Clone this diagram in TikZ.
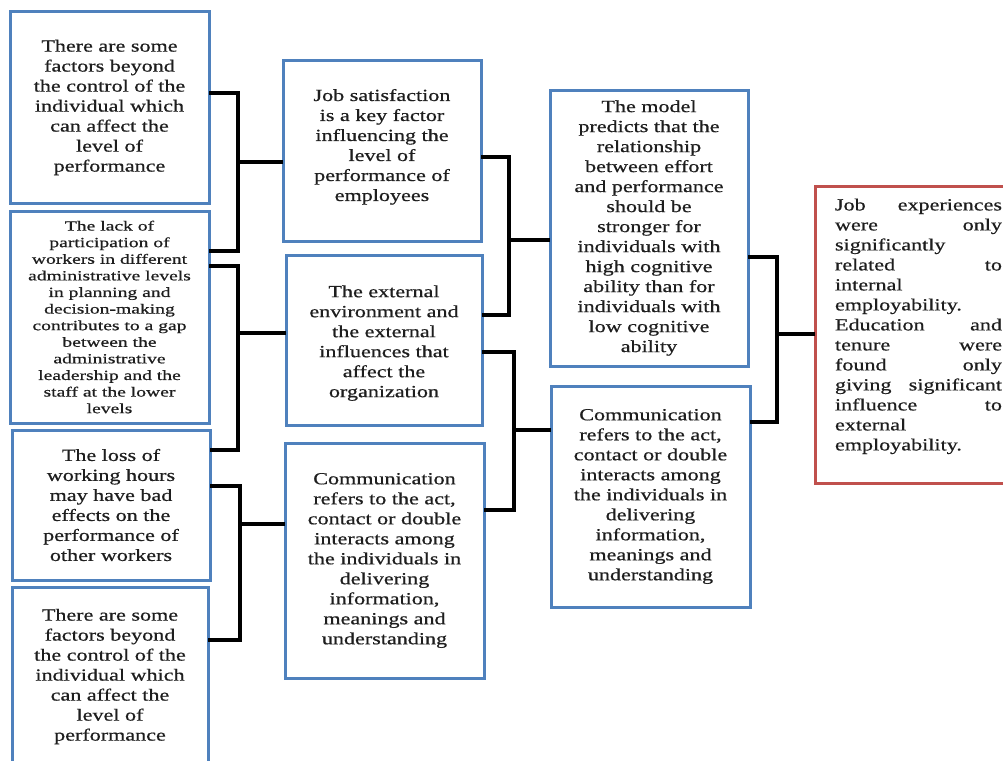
\documentclass[tikz,border=0pt]{standalone}
\usepackage{fontspec}
\newfontfamily\boxfont[FakeStretch=1.3,FakeBold=0.6]{Liberation Serif}
\newfontfamily\denseboxfont[FakeStretch=1.4,FakeBold=0.6]{Liberation Serif}
\definecolor{boxblue}{HTML}{4F81BD}
\definecolor{boxred}{HTML}{C0504D}
\definecolor{txtgray}{HTML}{1E1E1E}
\tikzset{
  box/.style={draw=boxblue, line width=3pt, fill=white, align=center,
    inner sep=0pt, outer sep=0pt, text=txtgray,
    font={\boxfont\fontsize{17}{20}\selectfont}},
  densebox/.style={box, font={\denseboxfont\fontsize{14}{16.6}\selectfont}},
  redbox/.style={draw=boxred, line width=3pt, fill=white, align=left,
    inner xsep=20pt, inner ysep=0pt, outer sep=0pt, text=txtgray,
    text width=167pt, font={\boxfont\fontsize{17}{20}\selectfont}},
  conn/.style={draw=black, line width=3.3pt, line join=miter}
}
\begin{document}
\begin{tikzpicture}[x=1pt, y=-1pt]
\useasboundingbox (0,0) rectangle (1003,760);
\clip (0,0) rectangle (1003,760);
\fill[white] (0,0) rectangle (1003,760);

% left column
\node[box, minimum width=199pt, minimum height=191pt] (L1) at (109.5,107.5)
  {There are some\\factors beyond\\the control of the\\individual which\\can affect the\\level of\\performance};
\node[densebox, minimum width=199pt, minimum height=212pt] (L2) at (109.5,317)
  {The lack of\\participation of\\workers in different\\administrative levels\\in planning and\\decision-making\\contributes to a gap\\between the\\administrative\\leadership and the\\staff at the lower\\levels};
\node[box, minimum width=198pt, minimum height=150pt] (L3) at (111,505)
  {The loss of\\working hours\\may have bad\\effects on the\\performance of\\other workers};
\node[box, minimum width=196pt, minimum height=179pt] (L4) at (110,676.5)
  {There are some\\factors beyond\\the control of the\\individual which\\can affect the\\level of\\performance};

% middle column
\node[box, minimum width=198pt, minimum height=180pt] (M1) at (382,151)
  {Job satisfaction\\is a key factor\\influencing the\\level of\\performance of\\employees\\[-8pt]\mbox{}};
\node[box, minimum width=196pt, minimum height=170pt] (M2) at (384,340)
  {\mbox{}\\[-2pt]The external\\environment and\\the external\\influences that\\affect the\\organization};
\node[box, minimum width=199pt, minimum height=235pt] (M3) at (384.5,560.5)
  {Communication\\refers to the act,\\contact or double\\interacts among\\the individuals in\\delivering\\information,\\meanings and\\understanding};

% third column
\node[box, minimum width=198pt, minimum height=276pt] (M4) at (649,228)
  {The model\\predicts that the\\relationship\\between effort\\and performance\\should be\\stronger for\\individuals with\\high cognitive\\ability than for\\individuals with\\low cognitive\\ability};
\node[box, minimum width=199pt, minimum height=221pt] (M5) at (650.5,496.5)
  {Communication\\refers to the act,\\contact or double\\interacts among\\the individuals in\\delivering\\information,\\meanings and\\understanding};

% right box
\node[redbox, minimum height=297pt] (R) at (918.5,334.5)
  {Job\hfill experiences\\were\hfill only\\significantly\\related\hfill to\\internal\\employability.\\Education\hfill and\\tenure\hfill were\\found\hfill only\\giving\hfill significant\\influence\hfill to\\external\\employability.\\\mbox{}};

% junctions
\coordinate (j1) at (238,162);
\coordinate (j2) at (238,333);
\coordinate (j3) at (240,524);
\coordinate (j4) at (509,240);
\coordinate (j5) at (514,430);
\coordinate (j6) at (777,334);

% connectors
\draw[conn] ([yshift=14.5pt]L1.east) -| (j1) |- ([yshift=66pt]L2.east);
\draw[conn] (j1) -- (j1 -| M1.west);
\draw[conn] ([yshift=51pt]L2.east) -| (j2) |- ([yshift=55pt]L3.east);
\draw[conn] (j2) -- (j2 -| M2.west);
\draw[conn] ([yshift=19pt]L3.east) -| (j3) |- ([yshift=36.5pt]L4.east);
\draw[conn] (j3) -- (j3 -| M3.west);
\draw[conn] ([yshift=-6pt]M1.east) -| (j4) |- ([yshift=25pt]M2.east);
\draw[conn] (j4) -- (j4 -| M4.west);
\draw[conn] ([yshift=-12pt]M2.east) -| (j5) |- ([yshift=50.5pt]M3.east);
\draw[conn] (j5) -- (j5 -| M5.west);
\draw[conn] ([yshift=-29pt]M4.east) -| (j6) |- ([yshift=74.5pt]M5.east);
\draw[conn] (j6) -- (j6 -| R.west);
\end{tikzpicture}
\end{document}
